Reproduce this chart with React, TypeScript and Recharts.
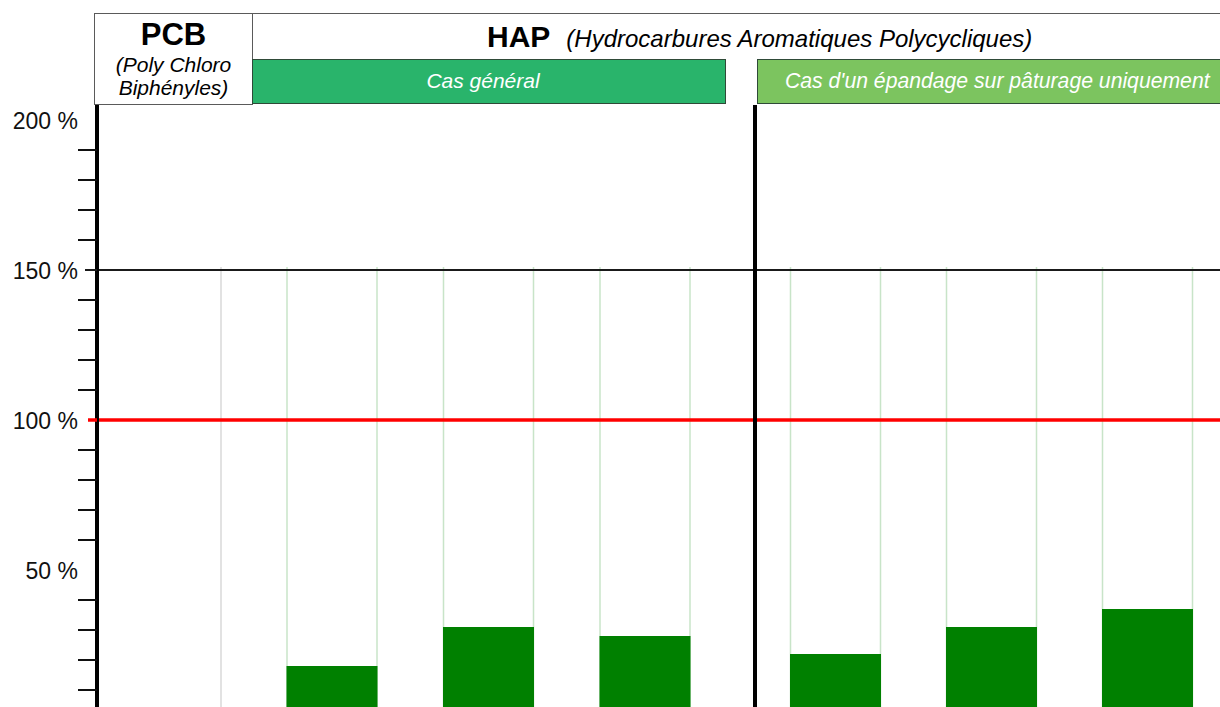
import React from "react"
import { BarChart, Bar, XAxis, YAxis, ReferenceLine } from "recharts"

// values are % of the reference limit
const generalCategories = ["PCB", "HAP - lot 1", "HAP - lot 2", "HAP - lot 3"]
const generalValues = [null, 18, 31, 28]
const pastureCategories = ["HAP - lot 1", "HAP - lot 2", "HAP - lot 3"]
const pastureValues = [22, 31, 37]
const envelopeValue = 151
const yTicks = [0, 10, 20, 30, 40, 50, 60, 70, 80, 90, 100, 110, 120, 130, 140, 150, 160, 170, 180, 190, 200]
const labelledTicks = [50, 100, 150, 200]
const limitLine = 100
const upperLine = 150

const generalData = generalCategories.map((name, i) => ({
  name,
  value: generalValues[i],
  envelope: envelopeValue,
}))
const pastureData = pastureCategories.map((name, i) => ({
  name,
  value: pastureValues[i],
  envelope: envelopeValue,
}))

const FONT = "Arial, 'Liberation Sans', sans-serif"
const BAR_GREEN = "#008000"

function EnvelopeShape(props: any) {
  const { x, y, width, height, payload } = props
  if (!height) return null
  const bottom = y + height
  if (payload.name === "PCB") {
    return <line x1={x + width} x2={x + width} y1={y} y2={bottom} stroke="#d9d9d9" strokeWidth={1.5} />
  }
  return (
    <g>
      <line x1={x + 0.5} x2={x + 0.5} y1={y} y2={bottom} stroke="#c8e4c8" strokeWidth={1.5} />
      <line x1={x + width - 0.5} x2={x + width - 0.5} y1={y} y2={bottom} stroke="#c8e4c8" strokeWidth={1.5} />
    </g>
  )
}

function YTick(props: any) {
  const { x, y, payload } = props
  const v = payload.value
  if (labelledTicks.includes(v)) {
    return (
      <g>
        {v === upperLine && <line x1={x - 12} x2={x} y1={y} y2={y} stroke="#1a1a1a" strokeWidth={2} />}
        {v === limitLine && <line x1={x - 9} x2={x} y1={y} y2={y} stroke="#ff0000" strokeWidth={3.5} />}
        <text x={x - 19} y={y + 1} textAnchor="end" dominantBaseline="central" fontSize={23} fill="#111" fontFamily={FONT}>
          {`${v} %`}
        </text>
      </g>
    )
  }
  return <line x1={x - 19} x2={x} y1={y} y2={y} stroke="#111" strokeWidth={2} />
}

const boxText: React.CSSProperties = {
  position: "absolute",
  fontFamily: FONT,
  fontStyle: "italic",
  whiteSpace: "nowrap",
}

export default function App() {
  return (
    <div
      style={{
        position: "absolute",
        left: 0,
        top: 0,
        width: 1220,
        height: 707,
        overflow: "hidden",
        background: "#fff",
        fontFamily: FONT,
      }}
    >
      {/* left panel: PCB + cas général */}
      <div style={{ position: "absolute", left: 0, top: 0 }}>
        <BarChart
          width={755}
          height={720}
          data={generalData}
          margin={{ top: 105, right: 0, left: 0, bottom: 0 }}
          barSize={91}
        >
          <XAxis dataKey="name" hide padding={{ left: 0, right: 32 }} />
          <XAxis dataKey="name" xAxisId="bg" hide padding={{ left: 0, right: 32 }} />
          <YAxis
            width={97}
            domain={[0, 205]}
            allowDataOverflow
            ticks={yTicks}
            interval={0}
            tickSize={0}
            tickMargin={0}
            tickLine={false}
            tick={<YTick />}
            axisLine={{ stroke: "#000", strokeWidth: 4 }}
          />
          <Bar dataKey="envelope" xAxisId="bg" shape={<EnvelopeShape />} isAnimationActive={false} />
          <Bar dataKey="value" fill={BAR_GREEN} isAnimationActive={false} />
          <ReferenceLine y={upperLine} stroke="#1a1a1a" strokeWidth={2} />
          <ReferenceLine y={limitLine} stroke="#ff0000" strokeWidth={3.5} />
        </BarChart>
      </div>

      {/* right panel: épandage sur pâturage */}
      <div style={{ position: "absolute", left: 753, top: 0 }}>
        <BarChart
          width={472}
          height={720}
          data={pastureData}
          margin={{ top: 105, right: 0, left: 0, bottom: 0 }}
          barSize={91}
        >
          <XAxis dataKey="name" hide padding={{ left: 2, right: 0 }} />
          <XAxis dataKey="name" xAxisId="bg" hide padding={{ left: 2, right: 0 }} />
          <YAxis
            width={2}
            domain={[0, 205]}
            allowDataOverflow
            ticks={yTicks}
            tick={false}
            tickLine={false}
            axisLine={{ stroke: "#000", strokeWidth: 4 }}
          />
          <Bar dataKey="envelope" xAxisId="bg" shape={<EnvelopeShape />} isAnimationActive={false} />
          <Bar dataKey="value" fill={BAR_GREEN} isAnimationActive={false} />
          <ReferenceLine y={upperLine} stroke="#1a1a1a" strokeWidth={2} />
          <ReferenceLine y={limitLine} stroke="#ff0000" strokeWidth={3.5} />
        </BarChart>
      </div>

      {/* header boxes */}
      <div
        style={{
          position: "absolute",
          left: 94,
          top: 13,
          width: 157,
          height: 90,
          border: "1.5px solid #5a5a5a",
          background: "#fff",
          textAlign: "center",
        }}
      >
        <div style={{ fontWeight: "bold", fontSize: 31, lineHeight: "34px", marginTop: 4 }}>PCB</div>
        <div style={{ fontStyle: "italic", fontSize: 21, lineHeight: "23px", marginTop: 1 }}>
          (Poly Chloro
          <br />
          Biphényles)
        </div>
      </div>
      <div
        style={{
          position: "absolute",
          left: 252,
          top: 13,
          width: 1000,
          height: 46,
          borderTop: "1.5px solid #5a5a5a",
          borderLeft: "1.5px solid #5a5a5a",
          background: "#fff",
        }}
      />
      <div style={{ position: "absolute", left: 487, top: 20, whiteSpace: "nowrap" }}>
        <span style={{ fontWeight: "bold", fontSize: 30 }}>HAP</span>
        <span style={{ fontStyle: "italic", fontSize: 24, marginLeft: 16 }}>
          (Hydrocarbures Aromatiques Polycycliques)
        </span>
      </div>
      <div
        style={{
          position: "absolute",
          left: 252,
          top: 59,
          width: 472,
          height: 43,
          background: "#29b46b",
          border: "1.5px solid #2f4a38",
        }}
      />
      <div style={{ ...boxText, left: 246, width: 474, top: 69, textAlign: "center", fontSize: 21, color: "#fff" }}>
        Cas général
      </div>
      <div
        style={{
          position: "absolute",
          left: 757,
          top: 59,
          width: 480,
          height: 43,
          background: "#7cc45f",
          border: "1.5px solid #2f4a38",
        }}
      />
      <div style={{ ...boxText, left: 785, top: 69, fontSize: 21.2, color: "#fff" }}>
        Cas d'un épandage sur pâturage uniquement
      </div>
    </div>
  )
}
